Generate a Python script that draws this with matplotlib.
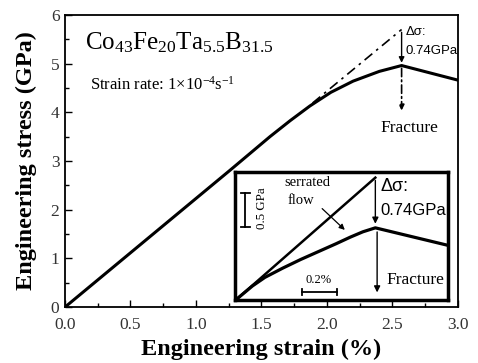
import matplotlib
matplotlib.use("Agg")
import matplotlib.pyplot as plt
from matplotlib.ticker import MultipleLocator, FormatStrFormatter

plt.rcParams['font.family'] = ['Liberation Serif', 'DejaVu Serif']
plt.rcParams['mathtext.fontset'] = 'custom'
plt.rcParams['mathtext.rm'] = 'Liberation Serif'
plt.rcParams['mathtext.it'] = 'Liberation Serif:italic'
plt.rcParams['mathtext.bf'] = 'Liberation Serif:bold'

# main stress-strain curve
strain = [0.0, 1.26, 1.565, 1.72, 1.87, 2.03, 2.20, 2.31, 2.40, 2.57, 3.0]
stress = [0.0, 2.81, 3.50, 3.83, 4.13, 4.41, 4.64, 4.75, 4.84, 4.96, 4.66]
# elastic extrapolation (dash-dot)
elastic_x = [1.89, 2.57]
elastic_y = [4.19, 5.70]
peak_x, peak_y = 2.57, 4.96
fracture_end_y = 3.98

# inset curves (own scale: % and GPa)
in_elastic_x = [0.0, 0.77]
in_elastic_y = [0.0, 1.82]
in_strain = [0.0, 0.08, 0.15, 0.25, 0.35, 0.45, 0.55, 0.63, 0.70, 0.77, 1.17]
in_stress = [0.0, 0.18, 0.31, 0.45, 0.58, 0.70, 0.82, 0.92, 1.00, 1.06, 0.80]

fig = plt.figure(figsize=(4.78, 3.63), dpi=100)
ax = fig.add_axes([0.136, 0.154, 0.822, 0.805])

ax.plot(strain, stress, color='black', lw=2.2, solid_joinstyle='round')
ax.plot(elastic_x, elastic_y, color='black', lw=1.2, linestyle=(0, (6, 3, 1.5, 3)))
ax.annotate('', xy=(peak_x, peak_y), xytext=(elastic_x[1], elastic_y[1]),
            arrowprops=dict(arrowstyle='-|>', color='black', lw=1.0, mutation_scale=8))
ax.annotate('', xy=(peak_x, fracture_end_y), xytext=(peak_x, peak_y),
            arrowprops=dict(arrowstyle='-|>', color='black', lw=1.2, mutation_scale=8,
                            linestyle=(0, (5, 2, 1, 2))))
ax.text(2.6, 5.64, 'Δσ:', fontsize=9.5, family=['Liberation Sans', 'DejaVu Sans'], va='center')
ax.text(2.6, 5.25, '0.74GPa', fontsize=9.5, family=['Liberation Sans', 'DejaVu Sans'], va='center')
ax.text(2.63, 3.68, 'Fracture', fontsize=12.5, ha='center', va='center')

ax.text(0.15, 5.42, r'$\mathrm{Co_{43}Fe_{20}Ta_{5.5}B_{31.5}}$', fontsize=18, va='center')
ax.text(0.19, 4.56, r'Strain rate: 1$\times$10$^{\mathrm{-4}}$s$^{\mathrm{-1}}$', fontsize=12, va='center')

ax.set_xlim(0, 3.0)
ax.set_ylim(0, 6)
ax.xaxis.set_major_locator(MultipleLocator(0.5))
ax.xaxis.set_minor_locator(MultipleLocator(0.25))
ax.yaxis.set_major_locator(MultipleLocator(1))
ax.yaxis.set_minor_locator(MultipleLocator(0.5))
ax.xaxis.set_major_formatter(FormatStrFormatter('%.1f'))
ax.tick_params(which='both', direction='in', top=False, right=False, labelsize=12.5,
               labelcolor='#333333', width=1.0)
ax.tick_params(which='major', length=5)
ax.tick_params(which='minor', length=3)
ax.tick_params(axis='x', pad=7)
ax.tick_params(axis='y', pad=4)
for s in ax.spines.values():
    s.set_linewidth(1.3)
ax.set_xlabel('Engineering strain (%)', fontsize=17.5, fontweight='bold')
ax.set_ylabel('Engineering stress (GPa)', fontsize=17.5, fontweight='bold')
ax.xaxis.set_label_coords(0.5, -0.108)
ax.yaxis.set_label_coords(-0.071, 0.5)

# inset
ins = fig.add_axes([0.492, 0.174, 0.446, 0.353])
ins.plot(in_elastic_x, in_elastic_y, color='black', lw=1.8)
ins.plot(in_strain, in_stress, color='black', lw=2.3, solid_joinstyle='round')
ins.annotate('', xy=(0.77, 1.08), xytext=(0.77, 1.82),
             arrowprops=dict(arrowstyle='-|>', color='black', lw=1.0, mutation_scale=9))
ins.annotate('', xy=(0.78, 0.04), xytext=(0.78, 1.04),
             arrowprops=dict(arrowstyle='-|>', color='black', lw=1.0, mutation_scale=9))
ins.text(0.80, 1.68, 'Δσ:', fontsize=13, family=['Liberation Sans', 'DejaVu Sans'], va='center')
ins.text(0.80, 1.33, '0.74GPa', fontsize=12, family=['Liberation Sans', 'DejaVu Sans'], va='center')
ins.text(0.83, 0.27, 'Fracture', fontsize=12.5, va='center')
ins.text(0.39, 1.74, 'serrated', fontsize=10.5, ha='center', va='center')
ins.text(0.35, 1.48, 'flow', fontsize=10.5, ha='center', va='center')
ins.annotate('', xy=(0.61, 1.0), xytext=(0.46, 1.38),
             arrowprops=dict(arrowstyle='-|>', color='black', lw=0.9, mutation_scale=8))
# scale bars
ins.plot([0.04, 0.04], [1.08, 1.59], color='black', lw=1.3)
ins.plot([0.015, 0.065], [1.59, 1.59], color='black', lw=1.3)
ins.plot([0.015, 0.065], [1.08, 1.08], color='black', lw=1.3)
ins.text(0.135, 1.36, '0.5 GPa', fontsize=9.3, rotation=90, ha='center', va='center')
ins.plot([0.36, 0.556], [0.09, 0.09], color='black', lw=1.3)
ins.plot([0.36, 0.36], [0.05, 0.13], color='black', lw=1.3)
ins.plot([0.556, 0.556], [0.05, 0.13], color='black', lw=1.3)
ins.text(0.45, 0.27, '0.2%', fontsize=9, ha='center', va='center')
ins.set_xlim(-0.017, 1.18)
ins.set_ylim(-0.03, 1.91)
ins.set_xticks([])
ins.set_yticks([])
for s in ins.spines.values():
    s.set_linewidth(2.5)

fig.savefig('out.png', dpi=100)
